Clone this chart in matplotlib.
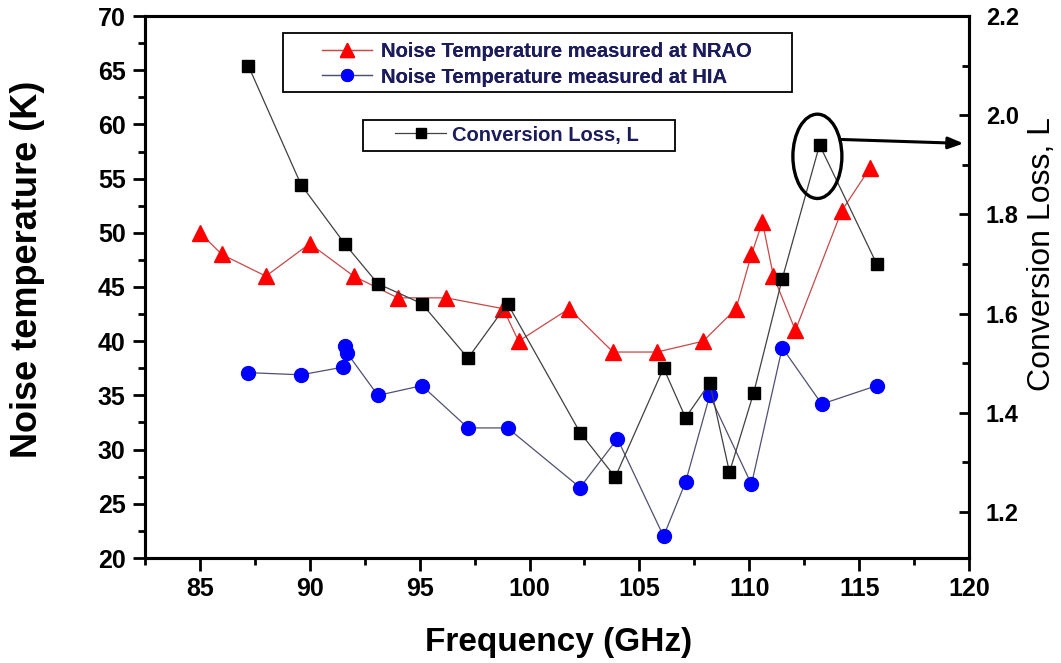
import matplotlib
matplotlib.use('Agg')
import matplotlib.pyplot as plt
from matplotlib.ticker import MultipleLocator, FormatStrFormatter
from matplotlib.patches import Ellipse, Rectangle

# ---------------- data ----------------
freq_nrao = [85.0, 86.0, 88.0, 90.0, 92.0, 94.0, 96.2, 98.8, 99.5, 101.8,
             103.8, 105.8, 107.9, 109.4, 110.1, 110.6, 111.1, 112.1, 114.2, 115.5]
tn_nrao = [50, 48, 46, 49, 46, 44, 44, 43, 40, 43,
           39, 39, 40, 43, 48, 51, 46, 41, 52, 56]

freq_hia = [87.2, 89.6, 91.5, 91.6, 91.7, 93.1, 95.1, 97.2, 99.0, 102.3,
            104.0, 106.1, 107.1, 108.2, 110.1, 111.5, 113.3, 115.8]
tn_hia = [37.1, 36.9, 37.6, 39.6, 38.9, 35.0, 35.9, 32.0, 32.0, 26.5,
          31.0, 22.0, 27.0, 35.0, 26.8, 39.4, 34.2, 35.9]

freq_loss = [87.2, 89.6, 91.6, 93.1, 95.1, 97.2, 99.0, 102.3, 103.9, 106.1,
             107.1, 108.2, 109.1, 110.2, 111.5, 113.2, 115.8]
conv_loss = [2.10, 1.86, 1.74, 1.66, 1.62, 1.51, 1.62, 1.36, 1.27, 1.49,
             1.39, 1.46, 1.28, 1.44, 1.67, 1.94, 1.70]

label_nrao = 'Noise Temperature measured at NRAO'
label_hia = 'Noise Temperature measured at HIA'
label_loss = 'Conversion Loss, L'

# ---------------- figure ----------------
plt.rcParams['font.family'] = ['Liberation Sans', 'DejaVu Sans']
plt.rcParams['font.weight'] = 'bold'

W, H = 1061, 663
fig = plt.figure(figsize=(W / 100, H / 100), dpi=100)
L, R, T, B = 145, 969, 16, 558
ax = fig.add_axes([L / W, 1 - B / H, (R - L) / W, (B - T) / H])
ax2 = ax.twinx()

l_nrao, = ax.plot(freq_nrao, tn_nrao, color='#c84848', lw=0.9, marker='^',
                  ms=11.5, mfc='#ff0000', mec='#ff0000', label=label_nrao)
l_hia, = ax.plot(freq_hia, tn_hia, color='#505070', lw=0.9, marker='o',
                 ms=10, mfc='#0000ff', mec='#0000ff', label=label_hia)
l_loss, = ax2.plot(freq_loss, conv_loss, color='#404040', lw=0.9, marker='s',
                   ms=9, mfc='black', mec='black', label=label_loss)

ax.set_xlim(82.5, 120)
ax.set_ylim(20, 70)
ax2.set_ylim(1.107, 2.2)

ax.xaxis.set_major_locator(MultipleLocator(5))
ax.xaxis.set_minor_locator(MultipleLocator(2.5))
ax.yaxis.set_major_locator(MultipleLocator(5))
ax.yaxis.set_minor_locator(MultipleLocator(2.5))
ax2.yaxis.set_major_locator(MultipleLocator(0.2))
ax2.yaxis.set_minor_locator(MultipleLocator(0.1))
ax2.yaxis.set_major_formatter(FormatStrFormatter('%.1f'))

for a in (ax, ax2):
    for s in a.spines.values():
        s.set_linewidth(2.2)

ax.tick_params(axis='both', which='major', direction='out', length=9, width=2,
               labelsize=18, pad=5)
ax.tick_params(axis='both', which='minor', direction='out', length=5, width=2)
ax.tick_params(top=False, right=False, which='both')
ax2.tick_params(axis='y', which='major', direction='in', length=7, width=2,
                labelsize=17, pad=12)
ax2.tick_params(axis='y', which='minor', direction='in', length=5, width=2)

ax.set_xlabel('Frequency (GHz)', fontsize=24, fontweight='bold')
ax.xaxis.set_label_coords(0.502, -0.156)
ax.xaxis.label.set_va('center')
ax.set_ylabel('Noise temperature (K)', fontsize=26, fontweight='bold')
ax.yaxis.set_label_coords(-0.143, 0.533)
ax.yaxis.label.set_va('center')
ax2.set_ylabel('Conversion Loss, L', fontsize=23, fontweight='normal')
ax2.yaxis.set_label_coords(1.089, 0.56)
ax2.yaxis.label.set_va('center')

# annotation ellipse and arrow
ell = Ellipse((113.1, 1.917), width=2.23, height=0.17, fill=False,
              ec='black', lw=2.4, zorder=6)
ax2.add_patch(ell)
ax2.annotate('', xy=(119.75, 1.943), xytext=(114.2, 1.951),
             xycoords='data', textcoords='data',
             arrowprops=dict(arrowstyle='-|>,head_length=0.9,head_width=0.35',
                             color='black', lw=2.2, shrinkA=0, shrinkB=0),
             zorder=6)

# legends (content placed, frames drawn as plain rectangles)
fs = 14.5
txtcol = '#1c1c5c'
leg1 = ax.legend(handles=[l_nrao, l_hia], loc='center left',
                 bbox_to_anchor=(322 / W, 1 - 64.5 / H),
                 bbox_transform=fig.transFigure, frameon=False,
                 borderpad=0, borderaxespad=0, handlelength=2.5,
                 handletextpad=0.45, labelspacing=0.3,
                 markerscale=0.85,
                 prop={'weight': 'bold', 'size': fs})
for t in leg1.get_texts():
    t.set_color(txtcol)
ax.add_artist(leg1)
leg2 = ax2.legend(handles=[l_loss], loc='center left',
                  bbox_to_anchor=(395 / W, 1 - 135 / H),
                  bbox_transform=fig.transFigure, frameon=False,
                  borderpad=0, borderaxespad=0, handlelength=2.55,
                  handletextpad=0.3, markerscale=0.85,
                  prop={'weight': 'bold', 'size': fs})
for t in leg2.get_texts():
    t.set_color(txtcol)

for (x0, y0, x1, y1) in [(283, 33, 792, 92), (363, 120, 675, 151)]:
    fig.add_artist(Rectangle((x0 / W, 1 - y1 / H), (x1 - x0) / W, (y1 - y0) / H,
                             transform=fig.transFigure, fill=False,
                             ec='black', lw=1.3, zorder=7))

fig.savefig('out.png', dpi=100)
